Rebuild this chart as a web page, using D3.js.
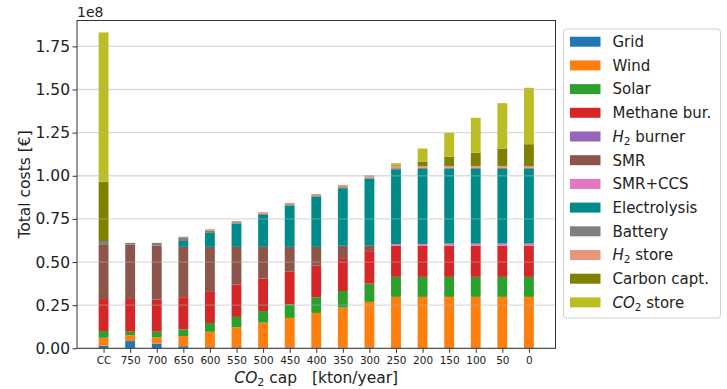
<!DOCTYPE html>
<html>
<head>
<meta charset="utf-8">
<script src="https://cdn.jsdelivr.net/npm/d3@7"></script>
<style>
  html, body { margin: 0; padding: 0; background: #fff; }
  svg { display: block; font-family: "DejaVu Sans", sans-serif; }
</style>
</head>
<body>
<svg id="chart" width="727" height="389"></svg>
<script>
// CO2 cap scenarios (kton/year); "CC" is the carbon-capture reference case
const categories = ["CC", "750", "700", "650", "600", "550", "500", "450", "400", "350", "300", "250", "200", "150", "100", "50", "0"];

// Cost per technology, in units of 1e8 €
const grid         = [0.015, 0.042, 0.027, 0.012, 0.006, 0.006, 0.005, 0.005, 0.005, 0.005, 0.005, 0, 0, 0, 0, 0, 0];
const wind         = [0.046, 0.033, 0.037, 0.059, 0.090, 0.116, 0.144, 0.171, 0.200, 0.231, 0.264, 0.298, 0.298, 0.298, 0.298, 0.298, 0.298];
const solar        = [0.039, 0.021, 0.032, 0.039, 0.051, 0.060, 0.067, 0.079, 0.091, 0.096, 0.106, 0.116, 0.116, 0.116, 0.116, 0.116, 0.116];
const methaneBur   = [0.186, 0.190, 0.186, 0.186, 0.184, 0.187, 0.188, 0.189, 0.183, 0.186, 0.188, 0.181, 0.181, 0.181, 0.181, 0.181, 0.181];
const h2Burner     = [0, 0, 0, 0, 0, 0, 0, 0, 0, 0, 0, 0, 0, 0, 0, 0, 0];
const smr          = [0.313, 0.315, 0.313, 0.292, 0.257, 0.219, 0.184, 0.144, 0.109, 0.077, 0.034, 0, 0, 0, 0, 0, 0];
const smrCcs       = [0, 0, 0, 0, 0, 0, 0, 0, 0, 0, 0, 0.008, 0.010, 0.012, 0.012, 0.012, 0.012];
const electrolysis = [0, 0, 0, 0.034, 0.081, 0.135, 0.185, 0.239, 0.291, 0.333, 0.387, 0.435, 0.435, 0.433, 0.433, 0.433, 0.433];
const battery      = [0.023, 0.010, 0.016, 0.022, 0.011, 0.008, 0.008, 0.008, 0.008, 0.006, 0.006, 0.006, 0.006, 0.006, 0.006, 0.006, 0.006];
const h2Store      = [0, 0, 0, 0.003, 0.010, 0.007, 0.008, 0.008, 0.008, 0.013, 0.013, 0.015, 0.011, 0.011, 0.011, 0.011, 0.011];
const carbonCapt   = [0.344, 0, 0, 0, 0, 0, 0, 0, 0, 0, 0, 0.004, 0.025, 0.053, 0.076, 0.101, 0.126];
const co2Store     = [0.865, 0, 0, 0, 0, 0, 0, 0, 0, 0, 0, 0.010, 0.076, 0.139, 0.203, 0.263, 0.327];

const yTicks = [0, 0.25, 0.5, 0.75, 1.0, 1.25, 1.5, 1.75];

// Legend labels: [plain, subscript, rest] pieces for mathtext-style names
const series = [
  { key: "grid",         label: ["Grid"],                 color: "#1f77b4", values: grid },
  { key: "wind",         label: ["Wind"],                 color: "#ff7f0e", values: wind },
  { key: "solar",        label: ["Solar"],                color: "#2ca02c", values: solar },
  { key: "methaneBur",   label: ["Methane bur."],         color: "#d62728", values: methaneBur },
  { key: "h2Burner",     label: ["H", "2", " burner"],    color: "#9467bd", values: h2Burner },
  { key: "smr",          label: ["SMR"],                  color: "#8c564b", values: smr },
  { key: "smrCcs",       label: ["SMR+CCS"],              color: "#e377c2", values: smrCcs },
  { key: "electrolysis", label: ["Electrolysis"],         color: "#008b8b", values: electrolysis },
  { key: "battery",      label: ["Battery"],              color: "#7f7f7f", values: battery },
  { key: "h2Store",      label: ["H", "2", " store"],     color: "#e9967a", values: h2Store },
  { key: "carbonCapt",   label: ["Carbon capt."],         color: "#808000", values: carbonCapt },
  { key: "co2Store",     label: ["CO", "2", " store"],    color: "#bcbd22", values: co2Store }
];

const table = categories.map((c, i) => {
  const row = { cat: c, idx: i };
  series.forEach(s => { row[s.key] = s.values[i]; });
  return row;
});

const svg = d3.select("#chart");
const plot = { left: 77, right: 555.5, top: 20.5, bottom: 348.3 };

const x = d3.scaleLinear().domain([-1, categories.length]).range([plot.left, plot.right]);
const y = d3.scaleLinear().domain([0, 1.9]).range([plot.bottom, plot.top]);
const barWidth = 0.37;

const stack = d3.stack().keys(series.map(s => s.key));
const layers = stack(table);

// Bars
const barG = svg.append("g");
layers.forEach((layer, li) => {
  barG.selectAll(null)
    .data(layer.filter(d => d[1] - d[0] > 0))
    .enter().append("rect")
    .attr("x", d => x(d.data.idx - barWidth / 2))
    .attr("width", x(barWidth) - x(0))
    .attr("y", d => y(d[1]))
    .attr("height", d => y(d[0]) - y(d[1]))
    .attr("fill", series[li].color);
});

// Horizontal grid drawn over the bars
svg.append("g")
  .selectAll("line")
  .data(yTicks)
  .enter().append("line")
  .attr("x1", plot.left).attr("x2", plot.right)
  .attr("y1", d => y(d)).attr("y2", d => y(d))
  .attr("stroke", "#b0b0b0")
  .attr("stroke-opacity", 0.45)
  .attr("stroke-width", 1.3);

// Axes
const yAxis = d3.axisLeft(y).tickValues(yTicks).tickFormat(d3.format(".2f")).tickSize(4.5).tickPadding(2.5);
const xAxis = d3.axisBottom(x).tickValues(d3.range(categories.length)).tickFormat(i => categories[i]).tickSize(4.5).tickPadding(4);

const gy = svg.append("g").attr("transform", `translate(${plot.left},0)`).call(yAxis);
gy.select(".domain").remove();
gy.selectAll("text").attr("font-size", 15.5).attr("fill", "#222").attr("font-family", "DejaVu Sans");
gy.selectAll("line").attr("stroke", "#333");

const gx = svg.append("g").attr("transform", `translate(0,${plot.bottom})`).call(xAxis);
gx.select(".domain").remove();
gx.selectAll("text").attr("font-size", 10.5).attr("fill", "#222").attr("font-family", "DejaVu Sans");
gx.selectAll("line").attr("stroke", "#333");

// Frame
svg.append("rect")
  .attr("x", plot.left).attr("y", plot.top)
  .attr("width", plot.right - plot.left).attr("height", plot.bottom - plot.top)
  .attr("fill", "none").attr("stroke", "#333").attr("stroke-width", 1);

// Offset label
svg.append("text").attr("x", plot.left).attr("y", 17)
  .attr("font-size", 14).attr("fill", "#222").text("1e8");

// Axis titles
svg.append("text")
  .attr("transform", `translate(30,${(plot.top + plot.bottom) / 2}) rotate(-90)`)
  .attr("text-anchor", "middle")
  .attr("font-size", 15.5).attr("fill", "#222")
  .text("Total costs [€]");

const xTitle = svg.append("text")
  .attr("x", (plot.left + plot.right) / 2).attr("y", 383)
  .attr("text-anchor", "middle").attr("font-size", 15.5).attr("fill", "#222");
xTitle.append("tspan").attr("font-style", "italic").text("CO");
xTitle.append("tspan").attr("font-size", 11).attr("dy", 3).text("2");
xTitle.append("tspan").attr("dy", -3).text(" cap\u00a0\u00a0\u00a0[kton/year]");

// Legend
const leg = svg.append("g");
leg.append("rect")
  .attr("x", 563.5).attr("y", 29).attr("width", 157).attr("height", 289)
  .attr("rx", 3).attr("fill", "#fff").attr("fill-opacity", 0.8)
  .attr("stroke", "#d0d0d0").attr("stroke-width", 1);

series.forEach((s, i) => {
  const cy = 41.7 + i * 23.7;
  leg.append("rect")
    .attr("x", 570).attr("y", cy - 5).attr("width", 30.5).attr("height", 10)
    .attr("fill", s.color);
  const t = leg.append("text")
    .attr("x", 612.5).attr("y", cy + 5.3)
    .attr("font-size", 15).attr("fill", "#222");
  if (s.label.length === 1) {
    t.text(s.label[0]);
  } else {
    t.append("tspan").attr("font-style", "italic").text(s.label[0]);
    t.append("tspan").attr("font-size", 10.5).attr("dy", 3).text(s.label[1]);
    t.append("tspan").attr("dy", -3).text("\u00a0" + s.label[2].trim());
  }
});
</script>
</body>
</html>
